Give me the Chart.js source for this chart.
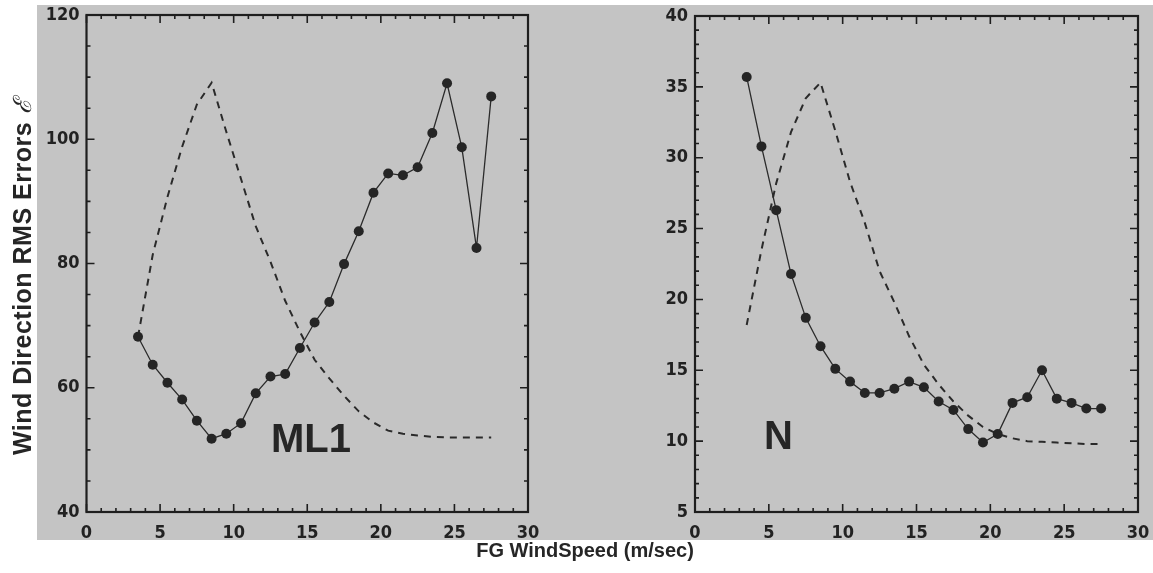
<!DOCTYPE html>
<html lang="en">
<head>
<meta charset="UTF-8">
<title>Wind Direction RMS Errors</title>
<script src="https://cdn.jsdelivr.net/npm/chart.js"></script>
<style>
body{margin:0;background:#fff;width:1153px;height:573px;position:relative;overflow:hidden;font-family:"Liberation Sans",Arial,sans-serif;}
#bg{position:absolute;left:37px;top:5px;width:1116px;height:535px;background:#c4c4c4;}
canvas{position:absolute;top:0;}
.lbl{position:absolute;font-weight:bold;color:#262626;white-space:nowrap;}
</style>
</head>
<body>
<div id="bg"></div>
<canvas id="c1" width="560" height="545" style="left:0"></canvas>
<canvas id="c2" width="593" height="545" style="left:560px"></canvas>
<div class="lbl" style="left:271px;top:418px;font-size:40px;line-height:40px">ML1</div>
<div class="lbl" style="left:764px;top:415px;font-size:40px;line-height:40px">N</div>
<div class="lbl" style="left:385px;top:540px;width:400px;text-align:center;font-size:20px;line-height:20px">FG WindSpeed (m/sec)</div>
<div class="lbl" style="left:-178px;top:262px;width:400px;height:30px;line-height:30px;text-align:center;font-size:25px;letter-spacing:0.5px;transform:rotate(-90deg)">Wind Direction RMS Errors <span style="font-style:italic;font-weight:normal;font-family:'DejaVu Serif',serif">ℰ</span></div>
<script>
// wind speed bins (m/sec)
const windSpeed = [3.5,4.5,5.5,6.5,7.5,8.5,9.5,10.5,11.5,12.5,13.5,14.5,15.5,16.5,17.5,18.5,19.5,20.5,21.5,22.5,23.5,24.5,25.5,26.5,27.5];

// ML1 panel
const ml1Err  = [68.2,63.7,60.8,58.1,54.7,51.8,52.6,54.3,59.1,61.8,62.2,66.4,70.5,73.8,79.9,85.2,91.4,94.5,94.2,95.5,101.0,109.0,98.7,82.5,106.9];
const ml1Dash = [68.2,81.4,90.7,98.8,105.6,109.1,101.2,93.6,86.0,80.3,74.0,69.0,64.5,61.5,58.7,56.2,54.4,53.1,52.6,52.3,52.1,52.0,52.0,52.0,52.0];

// N panel
const nErr  = [35.7,30.8,26.3,21.8,18.7,16.7,15.1,14.2,13.4,13.4,13.7,14.2,13.8,12.8,12.2,10.85,9.9,10.5,12.7,13.1,15.0,13.0,12.7,12.3,12.3];
const nDash = [18.2,23.5,28.2,31.8,34.2,35.3,31.9,28.3,25.4,22.0,19.8,17.4,15.4,14.0,12.8,11.8,11.0,10.5,10.2,10.0,9.95,9.9,9.85,9.8,9.8];

// tick labels
const xTicks    = [0,5,10,15,20,25,30];
const ml1YTicks = [40,60,80,100,120];
const nYTicks   = [5,10,15,20,25,30,35,40];

const tickFont = {family:"'DejaVu Sans Condensed','Liberation Sans Narrow',sans-serif", weight:'bold', size:18};

function pts(ys){
    return windSpeed.map((x,i)=>({x:x, y:ys[i]}));
}

// frame + inward ticks on all four sides
const frameTicks = {
    id:'frameTicks',
    afterDraw(chart, args, opt){
        const c = chart.ctx, a = chart.chartArea, xs = chart.scales.x, ys = chart.scales.y;
        const isMajor = (v, m) => Math.abs(v/m - Math.round(v/m)) < 1e-6;
        c.save();
        c.strokeStyle = '#1e1e1e';
        c.lineWidth = 1.6;
        c.beginPath();
        for (let v = xs.min; v <= xs.max + 1e-9; v += opt.xMinor){
            const px = xs.getPixelForValue(v);
            const len = isMajor(v, opt.xMajor) ? 8 : 4;
            c.moveTo(px, a.bottom); c.lineTo(px, a.bottom - len);
            c.moveTo(px, a.top);    c.lineTo(px, a.top + len);
        }
        for (let v = ys.min; v <= ys.max + 1e-9; v += opt.yMinor){
            const py = ys.getPixelForValue(v);
            const len = isMajor(v, opt.yMajor) ? 8 : 4;
            c.moveTo(a.left, py);  c.lineTo(a.left + len, py);
            c.moveTo(a.right, py); c.lineTo(a.right - len, py);
        }
        c.stroke();
        c.lineWidth = 2.2;
        c.strokeRect(a.left, a.top, a.right - a.left, a.bottom - a.top);
        c.restore();
    }
};

function makePanel(id, solid, dashed, yTicks, yMinor, padTop, padRight, yWidth){
    return new Chart(document.getElementById(id), {
        type:'line',
        data:{
            datasets:[
                {data:pts(solid), borderColor:'#2b2b2b', borderWidth:1.3, pointRadius:5,
                 pointBackgroundColor:'#252525', pointBorderWidth:0, tension:0},
                {data:pts(dashed), borderColor:'#2a2a2a', borderWidth:2, borderDash:[7,6],
                 pointRadius:0, tension:0}
            ]
        },
        options:{
            responsive:false,
            animation:false,
            events:[],
            layout:{padding:{top:padTop, right:padRight, left:0, bottom:0}},
            plugins:{
                legend:{display:false},
                tooltip:{enabled:false},
                frameTicks:{xMinor:1, xMajor:5, yMinor:yMinor, yMajor:yTicks[1]-yTicks[0]}
            },
            scales:{
                x:{
                    type:'linear',
                    min:xTicks[0], max:xTicks[xTicks.length-1],
                    ticks:{stepSize:xTicks[1]-xTicks[0], padding:11, color:'#222', font:tickFont, maxRotation:0, autoSkip:false},
                    grid:{display:false, drawTicks:false},
                    border:{display:false},
                    afterFit(s){ s.height = 33; s.paddingLeft = 0; s.paddingRight = 0; }
                },
                y:{
                    min:yTicks[0], max:yTicks[yTicks.length-1],
                    ticks:{stepSize:yTicks[1]-yTicks[0], padding:7, color:'#222', font:tickFont, autoSkip:false},
                    grid:{display:false, drawTicks:false},
                    border:{display:false},
                    afterFit(s){ s.width = yWidth; s.paddingTop = 0; s.paddingBottom = 0; }
                }
            }
        },
        plugins:[frameTicks]
    });
}

makePanel('c1', ml1Err, ml1Dash, ml1YTicks, 5, 15, 32, 86.5);
makePanel('c2', nErr, nDash, nYTicks, 1, 16, 15, 135);
</script>
</body>
</html>
